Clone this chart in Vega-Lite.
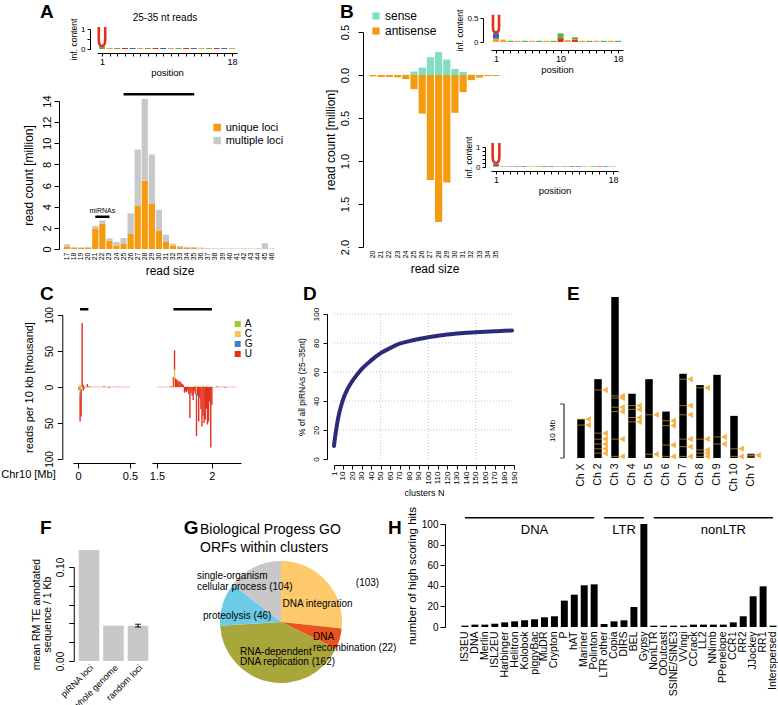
{
"$schema":"https://vega.github.io/schema/vega-lite/v6.json",
"padding":0,
"background":"white",
"data":{"values":[{}]},
"spacing":0,
"bounds":"flush",
"resolve":{"scale":{"color":"independent"}},
"config":{
  "font":"Liberation Sans",
  "view":{"stroke":null},
  "axis":{"domainColor":"black","tickColor":"black","labelColor":"black","titleColor":"black","titleFontWeight":"normal","grid":false,"tickSize":5,"labelFontSize":10,"titleFontSize":11,"labelOverlap":false,"labelFlush":false},
  "legend":{"labelFontSize":11,"symbolType":"square","symbolStrokeWidth":0},
  "title":{"fontWeight":"bold","fontSize":19,"anchor":"start","frame":"group","color":"black"}
},
"datasets":{
  "readsA":[
    {"size":17,"loci":"unique loci","count":0.19},{"size":17,"loci":"multiple loci","count":0.25},
    {"size":18,"loci":"unique loci","count":0.1},{"size":18,"loci":"multiple loci","count":0.08},
    {"size":19,"loci":"unique loci","count":0.1},{"size":19,"loci":"multiple loci","count":0.06},
    {"size":20,"loci":"unique loci","count":0.13},{"size":20,"loci":"multiple loci","count":0.08},
    {"size":21,"loci":"unique loci","count":1.95},{"size":21,"loci":"multiple loci","count":0.22},
    {"size":22,"loci":"unique loci","count":2.39},{"size":22,"loci":"multiple loci","count":0.31},
    {"size":23,"loci":"unique loci","count":0.78},{"size":23,"loci":"multiple loci","count":0.22},
    {"size":24,"loci":"unique loci","count":0.35},{"size":24,"loci":"multiple loci","count":0.31},
    {"size":25,"loci":"unique loci","count":0.47},{"size":25,"loci":"multiple loci","count":0.57},
    {"size":26,"loci":"unique loci","count":1.41},{"size":26,"loci":"multiple loci","count":1.98},
    {"size":27,"loci":"unique loci","count":4.08},{"size":27,"loci":"multiple loci","count":5.32},
    {"size":28,"loci":"unique loci","count":6.47},{"size":28,"loci":"multiple loci","count":7.73},
    {"size":29,"loci":"unique loci","count":4.27},{"size":29,"loci":"multiple loci","count":4.68},
    {"size":30,"loci":"unique loci","count":1.76},{"size":30,"loci":"multiple loci","count":1.94},
    {"size":31,"loci":"unique loci","count":0.66},{"size":31,"loci":"multiple loci","count":0.69},
    {"size":32,"loci":"unique loci","count":0.31},{"size":32,"loci":"multiple loci","count":0.19},
    {"size":33,"loci":"unique loci","count":0.17},{"size":33,"loci":"multiple loci","count":0.11},
    {"size":34,"loci":"unique loci","count":0.1},{"size":34,"loci":"multiple loci","count":0.09},
    {"size":35,"loci":"unique loci","count":0.09},{"size":35,"loci":"multiple loci","count":0.09},
    {"size":36,"loci":"unique loci","count":0.06},{"size":36,"loci":"multiple loci","count":0.07},
    {"size":37,"loci":"unique loci","count":0.04},{"size":37,"loci":"multiple loci","count":0.04},
    {"size":38,"loci":"unique loci","count":0.03},{"size":38,"loci":"multiple loci","count":0.04},
    {"size":39,"loci":"unique loci","count":0.03},{"size":39,"loci":"multiple loci","count":0.03},
    {"size":40,"loci":"unique loci","count":0.03},{"size":40,"loci":"multiple loci","count":0.03},
    {"size":41,"loci":"unique loci","count":0.03},{"size":41,"loci":"multiple loci","count":0.03},
    {"size":42,"loci":"unique loci","count":0.03},{"size":42,"loci":"multiple loci","count":0.03},
    {"size":43,"loci":"unique loci","count":0.03},{"size":43,"loci":"multiple loci","count":0.03},
    {"size":44,"loci":"unique loci","count":0.03},{"size":44,"loci":"multiple loci","count":0.03},
    {"size":45,"loci":"unique loci","count":0.06},{"size":45,"loci":"multiple loci","count":0.48},
    {"size":46,"loci":"unique loci","count":0.02},{"size":46,"loci":"multiple loci","count":0.03}
  ],
  "annotA":[{"from":25,"to":35,"y":14.65,"label":""},{"from":21,"to":23,"y":3.05,"label":"miRNAs","mid":22}],
  "logoA":[
    {"pos":1,"nt":"A","lo":0,"hi":0.13},{"pos":1,"nt":"U","lo":0.15,"hi":1.1},
    {"pos":2,"nt":"G","lo":0,"hi":0.05},{"pos":3,"nt":"A","lo":0,"hi":0.05},{"pos":4,"nt":"U","lo":0,"hi":0.05},
    {"pos":5,"nt":"C","lo":0,"hi":0.05},{"pos":6,"nt":"G","lo":0,"hi":0.05},{"pos":7,"nt":"A","lo":0,"hi":0.05},
    {"pos":8,"nt":"U","lo":0,"hi":0.05},{"pos":9,"nt":"C","lo":0,"hi":0.05},{"pos":10,"nt":"G","lo":0,"hi":0.05},
    {"pos":11,"nt":"A","lo":0,"hi":0.05},{"pos":12,"nt":"U","lo":0,"hi":0.05},{"pos":13,"nt":"C","lo":0,"hi":0.05},
    {"pos":14,"nt":"G","lo":0,"hi":0.05},{"pos":15,"nt":"A","lo":0,"hi":0.05},{"pos":16,"nt":"U","lo":0,"hi":0.05},
    {"pos":17,"nt":"C","lo":0,"hi":0.05},{"pos":18,"nt":"G","lo":0,"hi":0.05}
  ],
  "logoS":[
    {"pos":1,"nt":"G","lo":0,"hi":0.07},{"pos":1,"nt":"C","lo":0.07,"hi":0.18},{"pos":1,"nt":"U","lo":0.19,"hi":0.57},
    {"pos":2,"nt":"G","lo":0,"hi":0.05},{"pos":3,"nt":"A","lo":0,"hi":0.025},{"pos":4,"nt":"G","lo":0,"hi":0.025},
    {"pos":5,"nt":"A","lo":0,"hi":0.025},{"pos":6,"nt":"G","lo":0,"hi":0.025},{"pos":7,"nt":"A","lo":0,"hi":0.025},
    {"pos":8,"nt":"G","lo":0,"hi":0.025},{"pos":9,"nt":"A","lo":0,"hi":0.025},
    {"pos":10,"nt":"U","lo":0,"hi":0.08},{"pos":10,"nt":"A","lo":0.08,"hi":0.18},
    {"pos":11,"nt":"G","lo":0,"hi":0.04},{"pos":12,"nt":"U","lo":0,"hi":0.05},{"pos":12,"nt":"A","lo":0.05,"hi":0.1},
    {"pos":13,"nt":"G","lo":0,"hi":0.025},{"pos":14,"nt":"A","lo":0,"hi":0.025},{"pos":15,"nt":"G","lo":0,"hi":0.025},
    {"pos":16,"nt":"A","lo":0,"hi":0.025},{"pos":17,"nt":"G","lo":0,"hi":0.025},{"pos":18,"nt":"A","lo":0,"hi":0.025}
  ],
  "logoAS":[
    {"pos":1,"nt":"G","lo":0,"hi":0.05},{"pos":1,"nt":"C","lo":0.05,"hi":0.14},{"pos":1,"nt":"U","lo":0.15,"hi":1.2},
    {"pos":2,"nt":"G","lo":0,"hi":0.03},{"pos":3,"nt":"A","lo":0,"hi":0.03},{"pos":4,"nt":"U","lo":0,"hi":0.03},
    {"pos":5,"nt":"C","lo":0,"hi":0.03},{"pos":6,"nt":"G","lo":0,"hi":0.03},{"pos":7,"nt":"A","lo":0,"hi":0.03},
    {"pos":8,"nt":"U","lo":0,"hi":0.03},{"pos":9,"nt":"C","lo":0,"hi":0.03},{"pos":10,"nt":"G","lo":0,"hi":0.03},
    {"pos":11,"nt":"A","lo":0,"hi":0.03},{"pos":12,"nt":"U","lo":0,"hi":0.03},{"pos":13,"nt":"C","lo":0,"hi":0.03},
    {"pos":14,"nt":"G","lo":0,"hi":0.03},{"pos":15,"nt":"A","lo":0,"hi":0.03},{"pos":16,"nt":"U","lo":0,"hi":0.03},
    {"pos":17,"nt":"C","lo":0,"hi":0.03},{"pos":18,"nt":"G","lo":0,"hi":0.03}
  ],
  "readsB":[
    {"size":20,"strand":"sense","count":0},{"size":20,"strand":"antisense","count":-0.016},
    {"size":21,"strand":"sense","count":0},{"size":21,"strand":"antisense","count":-0.023},
    {"size":22,"strand":"sense","count":0},{"size":22,"strand":"antisense","count":-0.023},
    {"size":23,"strand":"sense","count":0},{"size":23,"strand":"antisense","count":-0.027},
    {"size":24,"strand":"sense","count":0.004},{"size":24,"strand":"antisense","count":-0.047},
    {"size":25,"strand":"sense","count":0.04},{"size":25,"strand":"antisense","count":-0.164},
    {"size":26,"strand":"sense","count":0.086},{"size":26,"strand":"antisense","count":-0.45},
    {"size":27,"strand":"sense","count":0.207},{"size":27,"strand":"antisense","count":-1.22},
    {"size":28,"strand":"sense","count":0.266},{"size":28,"strand":"antisense","count":-1.71},
    {"size":29,"strand":"sense","count":0.18},{"size":29,"strand":"antisense","count":-1.25},
    {"size":30,"strand":"sense","count":0.07},{"size":30,"strand":"antisense","count":-0.44},
    {"size":31,"strand":"sense","count":0.035},{"size":31,"strand":"antisense","count":-0.2},
    {"size":32,"strand":"sense","count":0.004},{"size":32,"strand":"antisense","count":-0.06},
    {"size":33,"strand":"sense","count":0},{"size":33,"strand":"antisense","count":-0.03},
    {"size":34,"strand":"sense","count":0},{"size":34,"strand":"antisense","count":-0.012},
    {"size":35,"strand":"sense","count":0},{"size":35,"strand":"antisense","count":-0.012}
  ],
  "chr10":[
    {"mb":0.01,"nt":"U","reads":-4},
    {"mb":0.02,"nt":"A","reads":3},{"mb":0.02,"nt":"C","reads":-8},{"mb":0.02,"nt":"G","reads":-5},{"mb":0.02,"nt":"U","reads":-35},
    {"mb":0.03,"nt":"C","reads":-3},{"mb":0.03,"nt":"U","reads":-38},
    {"mb":0.04,"nt":"A","reads":1},{"mb":0.04,"nt":"U","reads":88},
    {"mb":0.05,"nt":"U","reads":3},{"mb":0.05,"nt":"U","reads":-5},
    {"mb":0.06,"nt":"U","reads":-2},{"mb":0.09,"nt":"U","reads":4},{"mb":0.1,"nt":"U","reads":1},
    {"mb":0.12,"nt":"U","reads":0.5},{"mb":0.25,"nt":"U","reads":1},{"mb":0.3,"nt":"U","reads":-1},{"mb":0.38,"nt":"U","reads":0.5},
    {"mb":1.63,"nt":"U","reads":1},{"mb":1.65,"nt":"U","reads":14},
    {"mb":1.66,"nt":"C","reads":24},{"mb":1.66,"nt":"U","reads":27},
    {"mb":1.67,"nt":"U","reads":12},{"mb":1.68,"nt":"U","reads":10},{"mb":1.69,"nt":"U","reads":9},
    {"mb":1.7,"nt":"U","reads":7},{"mb":1.71,"nt":"U","reads":8},{"mb":1.72,"nt":"U","reads":6},
    {"mb":1.73,"nt":"U","reads":4},{"mb":1.74,"nt":"U","reads":3},
    {"mb":1.75,"nt":"U","reads":-8},{"mb":1.76,"nt":"U","reads":-6},{"mb":1.77,"nt":"U","reads":-7},
    {"mb":1.78,"nt":"U","reads":-4},{"mb":1.79,"nt":"U","reads":-10},{"mb":1.8,"nt":"U","reads":-43},
    {"mb":1.81,"nt":"U","reads":-8},{"mb":1.82,"nt":"U","reads":-12},{"mb":1.83,"nt":"U","reads":-18},
    {"mb":1.84,"nt":"U","reads":-6},{"mb":1.85,"nt":"A","reads":2},{"mb":1.85,"nt":"U","reads":-10},
    {"mb":1.86,"nt":"C","reads":-9},{"mb":1.86,"nt":"G","reads":-7},{"mb":1.86,"nt":"U","reads":-52},
    {"mb":1.87,"nt":"C","reads":2},{"mb":1.87,"nt":"U","reads":-12},{"mb":1.88,"nt":"U","reads":-48},
    {"mb":1.89,"nt":"U","reads":-15},{"mb":1.9,"nt":"U","reads":-31},{"mb":1.91,"nt":"U","reads":-55},
    {"mb":1.92,"nt":"A","reads":2},{"mb":1.92,"nt":"U","reads":-40},{"mb":1.93,"nt":"U","reads":-50},
    {"mb":1.94,"nt":"U","reads":-45},{"mb":1.95,"nt":"C","reads":2},{"mb":1.95,"nt":"U","reads":-30},
    {"mb":1.96,"nt":"U","reads":-52},{"mb":1.97,"nt":"U","reads":-48},{"mb":1.98,"nt":"U","reads":-20},
    {"mb":1.99,"nt":"U","reads":-84},{"mb":2.0,"nt":"U","reads":-25},{"mb":2.05,"nt":"U","reads":1},{"mb":2.12,"nt":"U","reads":-1}
  ],
  "clustersC":[{"start":0.02,"end":0.1},{"start":1.65,"end":2.0}],
  "cum":[
    {"n":1,"pct":9},{"n":2,"pct":14.5},{"n":3,"pct":19},{"n":5,"pct":27},{"n":7,"pct":33},{"n":10,"pct":40},
    {"n":15,"pct":48},{"n":20,"pct":53.5},{"n":25,"pct":58},{"n":30,"pct":62},{"n":40,"pct":68},{"n":50,"pct":73},
    {"n":60,"pct":76.5},{"n":70,"pct":79.5},{"n":80,"pct":81.3},{"n":90,"pct":82.8},{"n":100,"pct":84},
    {"n":110,"pct":85},{"n":120,"pct":85.8},{"n":130,"pct":86.5},{"n":140,"pct":87},{"n":150,"pct":87.4},
    {"n":160,"pct":87.8},{"n":170,"pct":88.1},{"n":180,"pct":88.4},{"n":188,"pct":88.6}
  ],
  "chroms":[
    {"chr":"Ch X","len":7.2},{"chr":"Ch 2","len":14.6},{"chr":"Ch 3","len":29.8},{"chr":"Ch 4","len":11.9},
    {"chr":"Ch 5","len":14.6},{"chr":"Ch 6","len":8.6},{"chr":"Ch 7","len":15.6},{"chr":"Ch 8","len":13.5},
    {"chr":"Ch 9","len":15.4},{"chr":"Ch 10","len":7.8},{"chr":"Ch Y","len":0.8}
  ],
  "clustersE":[
    {"chr":"Ch X","mb":7.2},{"chr":"Ch X","mb":6.1},
    {"chr":"Ch 2","mb":12.6},{"chr":"Ch 2","mb":4.6},{"chr":"Ch 2","mb":3.5},{"chr":"Ch 2","mb":2.6},{"chr":"Ch 2","mb":1.7},{"chr":"Ch 2","mb":0.9},
    {"chr":"Ch 3","mb":11.5},{"chr":"Ch 3","mb":11.1},{"chr":"Ch 3","mb":9.4},{"chr":"Ch 3","mb":8.6},{"chr":"Ch 3","mb":3.5},{"chr":"Ch 3","mb":0.3},
    {"chr":"Ch 4","mb":9.7},{"chr":"Ch 4","mb":9.0},{"chr":"Ch 4","mb":7.5},{"chr":"Ch 4","mb":6.7},
    {"chr":"Ch 5","mb":8.0},{"chr":"Ch 5","mb":0.7},
    {"chr":"Ch 6","mb":6.9},{"chr":"Ch 6","mb":6.0},{"chr":"Ch 6","mb":2.4},{"chr":"Ch 6","mb":0.3},
    {"chr":"Ch 7","mb":14.6},{"chr":"Ch 7","mb":9.7},{"chr":"Ch 7","mb":8.0},{"chr":"Ch 7","mb":3.5},{"chr":"Ch 7","mb":2.1},{"chr":"Ch 7","mb":0.3},
    {"chr":"Ch 8","mb":13.0},{"chr":"Ch 8","mb":3.5},{"chr":"Ch 8","mb":1.5},{"chr":"Ch 8","mb":0.9},{"chr":"Ch 8","mb":0.3},
    {"chr":"Ch 9","mb":3.9},{"chr":"Ch 9","mb":2.6},
    {"chr":"Ch 10","mb":1.7},{"chr":"Ch 10","mb":0.3},
    {"chr":"Ch Y","mb":0.5}
  ],
  "scaleE":[{"chr":"scale","lo":0,"hi":10,"label":"10 Mb"}],
  "teDensity":[{"set":"piRNA loci","value":0.118},{"set":"whole genome","value":0.0376},{"set":"random loci","value":0.0376,"lo":0.0361,"hi":0.0391}],
  "go":[
    {"k":1,"cat":"DNA integration","share":96,"label":"DNA integration","tag":"(103)"},
    {"k":2,"cat":"DNA recombination","share":20,"label":"DNA\nrecombination (22)"},
    {"k":3,"cat":"RNA-dependent DNA replication","share":150.5,"label":"RNA-dependent\nDNA replication (162)"},
    {"k":4,"cat":"proteolysis","share":41.5,"label":"proteolysis (46)"},
    {"k":5,"cat":"single-organism cellular process","share":52,"label":"single-organism\ncellular process (104)"}
  ],
  "hits":[
    {"te":"IS3EU","hits":1.3},{"te":"DNA","hits":2.3},{"te":"Merlin","hits":2.3},{"te":"ISL2EU","hits":3.2},
    {"te":"Harbinger","hits":4.5},{"te":"Helitron","hits":5.5},{"te":"Kolobok","hits":6.5},{"te":"piggyBac","hits":7.5},
    {"te":"MuDR","hits":9.4},{"te":"Crypton","hits":10.4},{"te":"P","hits":25.6},{"te":"hAT","hits":31.4},
    {"te":"Mariner","hits":40.5},{"te":"Polinton","hits":41.4},{"te":"LTR other","hits":2.9},{"te":"Copia","hits":5.5},
    {"te":"DIRS","hits":6.5},{"te":"BEL","hits":19.4},{"te":"Gypsy","hits":100},{"te":"NonLTR","hits":1.3},
    {"te":"OOutcast","hits":1.3},{"te":"SSINE/SINE3","hits":1.3},{"te":"VVingi","hits":1.3},{"te":"CCrack","hits":2.3},
    {"te":"LL2","hits":2.3},{"te":"NNimb","hits":2.3},{"te":"PPenelope","hits":2.3},{"te":"CCR1","hits":4.5},
    {"te":"RR2","hits":10.4},{"te":"JJockey","hits":29.8},{"te":"RR1","hits":39.5},{"te":"Interspersed","hits":1.3}
  ],
  "groupsH":[
    {"group":"DNA","first":"IS3EU","last":"Polinton","mid":"piggyBac"},
    {"group":"LTR","first":"LTR other","last":"Gypsy","mid":"DIRS"},
    {"group":"nonLTR","first":"NonLTR","last":"Interspersed","mid":"PPenelope"}
  ]
},
"vconcat":[
 {"hconcat":[
  {"width":1,"height":1,
   "title":{"text":"25-35 nt reads","fontSize":10,"fontWeight":"normal","align":"center","dx":165,"offset":-22.5},
   "data":{"name":"logoA"},
   "resolve":{"axis":{"x":"independent","y":"independent"}},
   "layer":[
     {"transform":[{"filter":"datum.hi - datum.lo < 0.3"}],
      "mark":{"type":"bar","width":6},
      "encoding":{
        "x":{"field":"pos","type":"quantitative","scale":{"domain":[1,18],"range":[97,237]},"axis":{"values":[1,2,3,4,5,6,7,8,9,10,11,12,13,14,15,16,17,18],"labelExpr":"datum.value == 1 || datum.value == 18 ? datum.label : ''","tickSize":3,"labelFontSize":9,"labelPadding":1,"title":"position","titleFontSize":9.5,"titlePadding":1,"offset":52}},
        "y":{"field":"lo","type":"quantitative","scale":{"domain":[0,1],"range":[49,29]},"axis":{"values":[0,0.5,1],"format":"~g","labelExpr":"datum.value == 0.5 ? '' : datum.label","tickSize":3,"labelFontSize":8,"labelPadding":2,"title":"inf. content","titleFontSize":8.5,"titlePadding":2,"offset":-90}},
        "y2":{"field":"hi"},
        "color":{"field":"nt","type":"nominal","scale":{"domain":["A","C","G","U"],"range":["#5fb33b","#3a62c4","#f3a52b","#e0301e"]},"legend":null}}},
     {"transform":[{"filter":"datum.hi - datum.lo >= 0.3"}],
      "mark":{"type":"point","shape":"M -0.32 0 L -0.32 1.3 C -0.32 2.1 0.32 2.1 0.32 1.3 L 0.32 0","filled":false,"color":"#e0301e","strokeWidth":2.6,"size":400,"opacity":1},
      "encoding":{"x":{"field":"pos","type":"quantitative","scale":{"domain":[1,18],"range":[97,237]},"axis":null},"y":{"field":"hi","type":"quantitative","scale":{"domain":[0,1],"range":[49,29]},"axis":null}}}
   ]},
  {"width":1,"height":1,
   "data":{"name":"logoS"},
   "resolve":{"axis":{"x":"independent","y":"independent"}},
   "layer":[
     {"transform":[{"filter":"datum.hi - datum.lo < 0.3"}],
      "mark":{"type":"bar","width":6},
      "encoding":{
        "x":{"field":"pos","type":"quantitative","scale":{"domain":[1,18],"range":[490,622]},"axis":{"values":[1,2,3,4,5,6,7,8,9,10,11,12,13,14,15,16,17,18],"labelExpr":"datum.value == 1 || datum.value == 10 || datum.value == 18 ? datum.label : ''","tickSize":3,"labelFontSize":9,"labelPadding":1,"title":"position","titleFontSize":9.5,"titlePadding":1,"offset":49}},
        "y":{"field":"lo","type":"quantitative","scale":{"domain":[0,0.5],"range":[42,18]},"axis":{"values":[0,0.5],"format":"~g","tickSize":3,"labelFontSize":8,"labelPadding":2,"title":"inf. content","titleFontSize":8.5,"titlePadding":2,"offset":-482}},
        "y2":{"field":"hi"},
        "color":{"field":"nt","type":"nominal","scale":{"domain":["A","C","G","U"],"range":["#5fb33b","#3a62c4","#f3a52b","#e0301e"]},"legend":null}}},
     {"transform":[{"filter":"datum.hi - datum.lo >= 0.3"}],
      "mark":{"type":"point","shape":"M -0.32 0 L -0.32 1.3 C -0.32 2.1 0.32 2.1 0.32 1.3 L 0.32 0","filled":false,"color":"#e0301e","strokeWidth":2.6,"size":360,"opacity":1},
      "encoding":{"x":{"field":"pos","type":"quantitative","scale":{"domain":[1,18],"range":[490,622]},"axis":null},"y":{"field":"hi","type":"quantitative","scale":{"domain":[0,0.5],"range":[42,18]},"axis":null}}}
   ]},
  {"width":1,"height":1,
   "data":{"name":"logoAS"},
   "resolve":{"axis":{"x":"independent","y":"independent"}},
   "layer":[
     {"transform":[{"filter":"datum.hi - datum.lo < 0.3"}],
      "mark":{"type":"bar","width":6},
      "encoding":{
        "x":{"field":"pos","type":"quantitative","scale":{"domain":[1,18],"range":[489,616]},"axis":{"values":[1,2,3,4,5,6,7,8,9,10,11,12,13,14,15,16,17,18],"labelExpr":"datum.value == 1 || datum.value == 18 ? datum.label : ''","tickSize":3,"labelFontSize":9,"labelPadding":1,"title":"position","titleFontSize":9.5,"titlePadding":1,"offset":170}},
        "y":{"field":"lo","type":"quantitative","scale":{"domain":[0,1],"range":[167,147]},"axis":{"values":[0,0.2,0.4,0.6,0.8,1],"format":"~g","labelExpr":"datum.value == 0 || datum.value == 1 ? datum.label : ''","tickSize":3,"labelFontSize":8,"labelPadding":2,"title":"inf. content","titleFontSize":8.5,"titlePadding":2,"offset":-483}},
        "y2":{"field":"hi"},
        "color":{"field":"nt","type":"nominal","scale":{"domain":["A","C","G","U"],"range":["#5fb33b","#3a62c4","#f3a52b","#e0301e"]},"legend":null}}},
     {"transform":[{"filter":"datum.hi - datum.lo >= 0.3"}],
      "mark":{"type":"point","shape":"M -0.32 0 L -0.32 1.3 C -0.32 2.1 0.32 2.1 0.32 1.3 L 0.32 0","filled":false,"color":"#e0301e","strokeWidth":2.6,"size":440,"opacity":1},
      "encoding":{"x":{"field":"pos","type":"quantitative","scale":{"domain":[1,18],"range":[489,616]},"axis":null},"y":{"field":"hi","type":"quantitative","scale":{"domain":[0,1],"range":[167,147]},"axis":null}}}
   ]},
  {"width":1,"height":1,
   "title":{"text":"A","dx":37,"offset":-21.8},
   "resolve":{"axis":{"x":"independent","y":"independent"}},
   "layer":[
     {"data":{"name":"readsA"},
      "mark":{"type":"bar"},
      "encoding":{
        "x":{"field":"size","type":"ordinal","scale":{"paddingInner":0.12,"paddingOuter":0.06,"range":[60.5,272.5]},"axis":{"title":"read size","labelAngle":-90,"labelFontSize":7,"ticks":false,"domain":false,"labelPadding":3,"titleFontSize":12,"titlePadding":6,"offset":248}},
        "y":{"field":"count","type":"quantitative","scale":{"domain":[0,14],"range":[249,101]},"axis":{"values":[0,2,4,6,8,10,12,14],"labelAngle":-90,"labelFontSize":11,"labelPadding":2,"offset":-56,"title":"read count [million]","titleFontSize":12,"titlePadding":6}},
        "color":{"field":"loci","type":"nominal","scale":{"domain":["unique loci","multiple loci"],"range":["#f59b0f","#c8c8c8"]},"legend":{"title":null,"orient":"none","legendX":208.7,"legendY":122,"symbolSize":56,"labelFontSize":11,"rowPadding":1,"labelOffset":3}},
        "order":{"field":"loci","sort":"descending"}}},
     {"data":{"name":"annotA"},
      "mark":{"type":"rule","strokeWidth":2.5,"color":"black"},
      "encoding":{"x":{"field":"from","type":"ordinal","scale":{"paddingInner":0.12,"paddingOuter":0.06,"range":[60.5,272.5]},"axis":null},"x2":{"field":"to"},"y":{"field":"y","type":"quantitative","scale":{"domain":[0,14],"range":[249,101]},"axis":null}}},
     {"data":{"name":"annotA"},
      "transform":[{"filter":"datum.label != ''"}],
      "mark":{"type":"text","fontSize":7,"dy":-3,"baseline":"bottom"},
      "encoding":{"x":{"field":"mid","type":"ordinal","scale":{"paddingInner":0.12,"paddingOuter":0.06,"range":[60.5,272.5]},"axis":null},"y":{"field":"y","type":"quantitative","scale":{"domain":[0,14],"range":[249,101]},"axis":null},"text":{"field":"label"}}}
   ]},
  {"width":1,"height":1,
   "title":{"text":"B","dx":336,"offset":-21.8},
   "data":{"name":"readsB"},
   "mark":{"type":"bar"},
   "encoding":{
     "x":{"field":"size","type":"ordinal","scale":{"paddingInner":0.12,"paddingOuter":0.06,"range":[365,496]},"axis":{"title":"read size","labelAngle":-90,"labelFontSize":7,"ticks":false,"domain":false,"labelPadding":3,"titleFontSize":12,"titlePadding":6,"offset":246}},
     "y":{"field":"count","type":"quantitative","scale":{"domain":[-2,0.5],"range":[247,32]},"axis":{"values":[-2,-1.5,-1,-0.5,0,0.5],"labelExpr":"format(abs(datum.value),'.1f')","labelAngle":-90,"labelFontSize":11,"labelPadding":8,"offset":-359,"title":"read count [million]","titleFontSize":12,"titlePadding":2}},
     "color":{"field":"strand","type":"nominal","scale":{"domain":["sense","antisense"],"range":["#80dfc1","#f59b0f"]},"legend":{"title":null,"orient":"none","legendX":366,"legendY":10,"symbolSize":52,"labelFontSize":12,"rowPadding":3,"labelOffset":3}}}},
  {"width":1,"height":1,
   "title":{"text":"C","dx":35,"offset":-303.8},
   "resolve":{"axis":{"x":"independent","y":"independent"}},
   "layer":[
     {"mark":{"type":"rule","color":"#f1a79d","strokeWidth":0.8},"encoding":{"x":{"datum":0,"scale":{"domain":[0,0.5],"range":[68,130]},"axis":null},"x2":{"datum":0.5},"y":{"datum":0,"scale":{"domain":[-100,100],"range":[459,315]},"axis":null}}},
     {"data":{"name":"chr10"},"transform":[{"filter":"datum.mb < 1"}],
      "mark":{"type":"bar","width":1.4},
      "encoding":{
        "x":{"field":"mb","type":"quantitative","title":"Chr10 [Mb]","scale":{"domain":[0,0.5],"range":[68,130]},"axis":{"values":[0,0.5],"format":"~g","offset":462,"tickSize":5,"labelFontSize":11,"labelPadding":2,"titleFontSize":11,"titleX":23,"titleY":14,"titleAlign":"center","titleBaseline":"alphabetic"}},
        "y":{"field":"reads","type":"quantitative","title":"reads per 10 kb [thousand]","scale":{"domain":[-100,100],"range":[459,315]},"axis":{"values":[-100,-50,0,50,100],"labelExpr":"format(abs(datum.value),'d')","labelAngle":-90,"labelFontSize":10,"offset":-57.3,"tickSize":5,"labelPadding":3,"titleFontSize":11,"titlePadding":10}},
        "color":{"field":"nt","type":"nominal","scale":{"domain":["A","C","G","U"],"range":["#9acd32","#fbbf5c","#3f7fc3","#e2311e"]},"legend":null},
        "order":{"field":"nt"}}},
     {"data":{"name":"clustersC"},"transform":[{"filter":"datum.start < 1"}],
      "mark":{"type":"rule","strokeWidth":2.5,"color":"black"},
      "encoding":{"x":{"field":"start","type":"quantitative","scale":{"domain":[0,0.5],"range":[68,130]},"axis":null},"x2":{"field":"end"},"y":{"datum":108,"scale":{"domain":[-100,100],"range":[459,315]},"axis":null}}}
   ]},
  {"width":1,"height":1,
   "resolve":{"axis":{"x":"independent","y":"independent"}},
   "layer":[
     {"mark":{"type":"rule","color":"#f1a79d","strokeWidth":0.8},"encoding":{"x":{"datum":1.5,"scale":{"domain":[1.5,2.22],"range":[146,235]},"axis":null},"x2":{"datum":2.22},"y":{"datum":0,"scale":{"domain":[-100,100],"range":[459,315]},"axis":null}}},
     {"data":{"name":"chr10"},"transform":[{"filter":"datum.mb > 1"}],
      "mark":{"type":"bar","width":1.4},
      "encoding":{
        "x":{"field":"mb","type":"quantitative","title":null,"scale":{"domain":[1.5,2.22],"range":[146,235]},"axis":{"values":[1.5,2],"format":"~g","offset":462,"tickSize":5,"labelFontSize":11,"labelPadding":2}},
        "y":{"field":"reads","type":"quantitative","scale":{"domain":[-100,100],"range":[459,315]},"axis":null},
        "color":{"field":"nt","type":"nominal","scale":{"domain":["A","C","G","U"],"range":["#9acd32","#fbbf5c","#3f7fc3","#e2311e"]},"legend":{"title":null,"orient":"none","legendX":226.7,"legendY":319,"symbolSize":36,"labelFontSize":10,"rowPadding":-2,"labelOffset":2}},
        "order":{"field":"nt"}}},
     {"data":{"name":"clustersC"},"transform":[{"filter":"datum.start > 1"}],
      "mark":{"type":"rule","strokeWidth":2.5,"color":"black"},
      "encoding":{"x":{"field":"start","type":"quantitative","scale":{"domain":[1.5,2.22],"range":[146,235]},"axis":null},"x2":{"field":"end"},"y":{"datum":108,"scale":{"domain":[-100,100],"range":[459,315]},"axis":null}}}
   ]},
  {"width":1,"height":1,
   "title":{"text":"D","dx":296,"offset":-303.8},
   "resolve":{"axis":{"x":"independent","y":"independent"}},
   "layer":[
     {"mark":{"type":"rule","color":"#c4c4c4","strokeDash":[1,2]},"encoding":{"x":{"datum":50,"scale":{"domain":[1,190],"range":[327,507]},"axis":null},"y":{"datum":0,"scale":{"domain":[0,100],"range":[459,314]},"axis":null},"y2":{"datum":100}}},
     {"mark":{"type":"rule","color":"#c4c4c4","strokeDash":[1,2]},"encoding":{"x":{"datum":100,"scale":{"domain":[1,190],"range":[327,507]},"axis":null},"y":{"datum":0,"scale":{"domain":[0,100],"range":[459,314]},"axis":null},"y2":{"datum":100}}},
     {"mark":{"type":"rule","color":"#c4c4c4","strokeDash":[1,2]},"encoding":{"x":{"datum":150,"scale":{"domain":[1,190],"range":[327,507]},"axis":null},"y":{"datum":0,"scale":{"domain":[0,100],"range":[459,314]},"axis":null},"y2":{"datum":100}}},
     {"mark":{"type":"rule","color":"#c4c4c4","strokeDash":[1,2]},"encoding":{"y":{"datum":20,"scale":{"domain":[0,100],"range":[459,314]},"axis":null},"x":{"datum":1,"scale":{"domain":[1,190],"range":[327,507]},"axis":null},"x2":{"datum":190}}},
     {"mark":{"type":"rule","color":"#c4c4c4","strokeDash":[1,2]},"encoding":{"y":{"datum":40,"scale":{"domain":[0,100],"range":[459,314]},"axis":null},"x":{"datum":1,"scale":{"domain":[1,190],"range":[327,507]},"axis":null},"x2":{"datum":190}}},
     {"mark":{"type":"rule","color":"#c4c4c4","strokeDash":[1,2]},"encoding":{"y":{"datum":60,"scale":{"domain":[0,100],"range":[459,314]},"axis":null},"x":{"datum":1,"scale":{"domain":[1,190],"range":[327,507]},"axis":null},"x2":{"datum":190}}},
     {"mark":{"type":"rule","color":"#c4c4c4","strokeDash":[1,2]},"encoding":{"y":{"datum":80,"scale":{"domain":[0,100],"range":[459,314]},"axis":null},"x":{"datum":1,"scale":{"domain":[1,190],"range":[327,507]},"axis":null},"x2":{"datum":190}}},
     {"mark":{"type":"rule","color":"#c4c4c4","strokeDash":[1,2]},"encoding":{"y":{"datum":100,"scale":{"domain":[0,100],"range":[459,314]},"axis":null},"x":{"datum":1,"scale":{"domain":[1,190],"range":[327,507]},"axis":null},"x2":{"datum":190}}},
     {"data":{"name":"cum"},"mark":{"type":"line","color":"#2c2a7c","strokeWidth":4,"strokeCap":"round","interpolate":"monotone"},
      "encoding":{
        "x":{"field":"n","type":"quantitative","scale":{"domain":[1,190],"range":[327,507]},"axis":{"values":[1,10,20,30,40,50,60,70,80,90,100,110,120,130,140,150,160,170,180,190],"labelAngle":-90,"labelFontSize":8,"tickSize":4,"offset":464,"title":"clusters N","titleFontSize":9,"labelPadding":2,"titlePadding":4}},
        "y":{"field":"pct","type":"quantitative","scale":{"domain":[0,100],"range":[459,314]},"axis":{"values":[0,20,40,60,80,100],"labelAngle":-90,"labelFontSize":8,"offset":-320,"tickSize":4,"labelPadding":3,"title":"% of all piRNAs (25–35nt)","titleFontSize":8.5,"titlePadding":6}}}}
   ]},
  {"width":1,"height":1,
   "title":{"text":"E","dx":559,"offset":-303.8},
   "resolve":{"axis":{"x":"independent","y":"independent"}},
   "layer":[
     {"data":{"name":"chroms"},"mark":{"type":"bar"},
      "encoding":{
        "x":{"field":"chr","type":"nominal","title":null,"scale":{"domain":["scale","Ch X","Ch 2","Ch 3","Ch 4","Ch 5","Ch 6","Ch 7","Ch 8","Ch 9","Ch 10","Ch Y"],"paddingInner":0.56,"paddingOuter":0.28,"range":[547.5,751.5]},"axis":{"labelExpr":"datum.value == 'scale' ? '' : datum.value","labelAngle":-90,"labelFontSize":10.5,"ticks":false,"domain":false,"labelPadding":5,"offset":457}},
        "y":{"field":"len","type":"quantitative","scale":{"domain":[0,30],"range":[458,296]},"axis":null},
        "color":{"condition":{"test":"datum.chr == 'Ch Y'","value":"#3d2e14"},"value":"black"}}},
     {"data":{"name":"clustersE"},"mark":{"type":"tick","orient":"horizontal","size":7.5,"thickness":1,"color":"#d99a36"},
      "encoding":{"x":{"field":"chr","type":"nominal","scale":{"domain":["scale","Ch X","Ch 2","Ch 3","Ch 4","Ch 5","Ch 6","Ch 7","Ch 8","Ch 9","Ch 10","Ch Y"],"paddingInner":0.56,"paddingOuter":0.28,"range":[547.5,751.5]},"axis":null},"y":{"field":"mb","type":"quantitative","scale":{"domain":[0,30],"range":[458,296]},"axis":null}}},
     {"data":{"name":"clustersE"},"mark":{"type":"point","shape":"triangle-left","filled":true,"size":42,"color":"#f8b145","opacity":1,"xOffset":7},
      "encoding":{"x":{"field":"chr","type":"nominal","scale":{"domain":["scale","Ch X","Ch 2","Ch 3","Ch 4","Ch 5","Ch 6","Ch 7","Ch 8","Ch 9","Ch 10","Ch Y"],"paddingInner":0.56,"paddingOuter":0.28,"range":[547.5,751.5]},"axis":null},"y":{"field":"mb","type":"quantitative","scale":{"domain":[0,30],"range":[458,296]},"axis":null}}},
     {"data":{"name":"scaleE"},"mark":{"type":"rule","color":"black","strokeWidth":1},
      "encoding":{"x":{"field":"chr","type":"nominal","scale":{"domain":["scale","Ch X","Ch 2","Ch 3","Ch 4","Ch 5","Ch 6","Ch 7","Ch 8","Ch 9","Ch 10","Ch Y"],"paddingInner":0.56,"paddingOuter":0.28,"range":[547.5,751.5]},"axis":null},"y":{"field":"lo","type":"quantitative","scale":{"domain":[0,30],"range":[458,296]},"axis":null},"y2":{"field":"hi"}}},
     {"data":{"name":"scaleE"},"mark":{"type":"tick","orient":"horizontal","size":4,"thickness":1,"color":"black","xOffset":-2},
      "encoding":{"x":{"field":"chr","type":"nominal","scale":{"domain":["scale","Ch X","Ch 2","Ch 3","Ch 4","Ch 5","Ch 6","Ch 7","Ch 8","Ch 9","Ch 10","Ch Y"],"paddingInner":0.56,"paddingOuter":0.28,"range":[547.5,751.5]},"axis":null},"y":{"field":"lo","type":"quantitative","scale":{"domain":[0,30],"range":[458,296]},"axis":null}}},
     {"data":{"name":"scaleE"},"mark":{"type":"tick","orient":"horizontal","size":4,"thickness":1,"color":"black","xOffset":-2},
      "encoding":{"x":{"field":"chr","type":"nominal","scale":{"domain":["scale","Ch X","Ch 2","Ch 3","Ch 4","Ch 5","Ch 6","Ch 7","Ch 8","Ch 9","Ch 10","Ch Y"],"paddingInner":0.56,"paddingOuter":0.28,"range":[547.5,751.5]},"axis":null},"y":{"field":"hi","type":"quantitative","scale":{"domain":[0,30],"range":[458,296]},"axis":null}}},
     {"data":{"name":"scaleE"},"mark":{"type":"text","angle":270,"fontSize":8,"xOffset":-11,"align":"center","baseline":"middle"},
      "encoding":{"x":{"field":"chr","type":"nominal","scale":{"domain":["scale","Ch X","Ch 2","Ch 3","Ch 4","Ch 5","Ch 6","Ch 7","Ch 8","Ch 9","Ch 10","Ch Y"],"paddingInner":0.56,"paddingOuter":0.28,"range":[547.5,751.5]},"axis":null},"y":{"datum":5,"scale":{"domain":[0,30],"range":[458,296]},"axis":null},"text":{"field":"label"}}}
   ]},
  {"width":1,"height":1,
   "title":{"text":"F","dx":31,"offset":-537.8},
   "data":{"name":"teDensity"},
   "resolve":{"axis":{"x":"independent","y":"independent"}},
   "layer":[
     {"mark":{"type":"bar","color":"#c8c8c8"},
      "encoding":{
        "x":{"field":"set","type":"nominal","title":null,"scale":{"domain":["piRNA loci","whole genome","random loci"],"paddingInner":0.16,"paddingOuter":0.08,"range":[67.75,141.25]},"axis":{"labelAngle":-45,"ticks":false,"domain":false,"labelFontSize":9,"labelPadding":2,"offset":660}},
        "y":{"field":"value","type":"quantitative","scale":{"domain":[0,0.1],"range":[661,567]},"axis":{"values":[0,0.02,0.04,0.06,0.08,0.1],"labelExpr":"(datum.value < 0.001 || datum.value > 0.099) ? format(datum.value,'.2f') : ''","labelAngle":-90,"labelFontSize":10,"offset":-64.75,"tickSize":5,"labelPadding":3,"title":["mean RM  TE annotated","sequence / 1 Kb"],"titleFontSize":10.5,"titleLineHeight":11,"titlePadding":3}}}},
     {"transform":[{"filter":"isValid(datum.lo)"}],"mark":{"type":"rule","color":"black","strokeWidth":1.2},
      "encoding":{"x":{"field":"set","type":"nominal","scale":{"domain":["piRNA loci","whole genome","random loci"],"paddingInner":0.16,"paddingOuter":0.08,"range":[67.75,141.25]},"axis":null},"y":{"field":"lo","type":"quantitative","scale":{"domain":[0,0.1],"range":[661,567]},"axis":null},"y2":{"field":"hi"}}},
     {"transform":[{"filter":"isValid(datum.lo)"}],"mark":{"type":"tick","orient":"horizontal","size":6,"thickness":1.2,"color":"black"},
      "encoding":{"x":{"field":"set","type":"nominal","scale":{"domain":["piRNA loci","whole genome","random loci"],"paddingInner":0.16,"paddingOuter":0.08,"range":[67.75,141.25]},"axis":null},"y":{"field":"lo","type":"quantitative","scale":{"domain":[0,0.1],"range":[661,567]},"axis":null}}},
     {"transform":[{"filter":"isValid(datum.lo)"}],"mark":{"type":"tick","orient":"horizontal","size":6,"thickness":1.2,"color":"black"},
      "encoding":{"x":{"field":"set","type":"nominal","scale":{"domain":["piRNA loci","whole genome","random loci"],"paddingInner":0.16,"paddingOuter":0.08,"range":[67.75,141.25]},"axis":null},"y":{"field":"hi","type":"quantitative","scale":{"domain":[0,0.1],"range":[661,567]},"axis":null}}}
   ]},
  {"width":1,"height":1,
   "title":{"text":"H","dx":378,"offset":-537.8},
   "resolve":{"axis":{"x":"independent","y":"independent"}},
   "layer":[
     {"data":{"name":"hits"},"mark":{"type":"bar","color":"black"},
      "encoding":{
        "x":{"field":"te","type":"nominal","title":null,"scale":{"domain":["IS3EU","DNA","Merlin","ISL2EU","Harbinger","Helitron","Kolobok","piggyBac","MuDR","Crypton","P","hAT","Mariner","Polinton","LTR other","Copia","DIRS","BEL","Gypsy","NonLTR","OOutcast","SSINE/SINE3","VVingi","CCrack","LL2","NNimb","PPenelope","CCR1","RR2","JJockey","RR1","Interspersed"],"paddingInner":0.3,"paddingOuter":0.15,"range":[450,768]},"axis":{"labelAngle":-90,"ticks":false,"domain":false,"labelPadding":4,"labelFontSize":10.5,"offset":626}},
        "y":{"field":"hits","type":"quantitative","scale":{"domain":[0,100],"range":[627,524]},"axis":{"values":[0,20,40,60,80,100],"labelFontSize":10,"offset":-435,"tickSize":5,"labelPadding":2,"title":"number of high scoring hits","titleFontSize":11.5,"titlePadding":4}}}},
     {"data":{"name":"groupsH"},"mark":{"type":"rule","color":"black","strokeWidth":1.5},
      "encoding":{"x":{"field":"first","type":"nominal","scale":{"domain":["IS3EU","DNA","Merlin","ISL2EU","Harbinger","Helitron","Kolobok","piggyBac","MuDR","Crypton","P","hAT","Mariner","Polinton","LTR other","Copia","DIRS","BEL","Gypsy","NonLTR","OOutcast","SSINE/SINE3","VVingi","CCrack","LL2","NNimb","PPenelope","CCR1","RR2","JJockey","RR1","Interspersed"],"paddingInner":0.3,"paddingOuter":0.15,"range":[450,768]},"axis":null},"x2":{"field":"last"},"y":{"datum":106,"scale":{"domain":[0,100],"range":[627,524]},"axis":null}}},
     {"data":{"name":"groupsH"},"mark":{"type":"text","fontSize":13,"baseline":"middle"},
      "encoding":{"x":{"field":"mid","type":"nominal","scale":{"domain":["IS3EU","DNA","Merlin","ISL2EU","Harbinger","Helitron","Kolobok","piggyBac","MuDR","Crypton","P","hAT","Mariner","Polinton","LTR other","Copia","DIRS","BEL","Gypsy","NonLTR","OOutcast","SSINE/SINE3","VVingi","CCrack","LL2","NNimb","PPenelope","CCR1","RR2","JJockey","RR1","Interspersed"],"paddingInner":0.3,"paddingOuter":0.15,"range":[450,768]},"axis":null},"y":{"datum":94,"scale":{"domain":[0,100],"range":[627,524]},"axis":null},"text":{"field":"group"}}}
   ]}
 ],"spacing":0,"bounds":"flush","resolve":{"scale":{"color":"independent"}}},
 {"width":1,"height":561,"mark":{"type":"text","text":""}},
 {"hconcat":[
  {"width":220,"height":1,"mark":{"type":"text","text":""}},
  {"width":122,"height":122,
   "title":{"text":["Biological Progess GO","ORFs within clusters"],"fontSize":14,"fontWeight":"normal","lineHeight":18,"dx":-20,"offset":-36},
   "data":{"name":"go"},
   "layer":[
     {"mark":{"type":"arc","outerRadius":61},
      "encoding":{
        "theta":{"field":"share","type":"quantitative","stack":true},
        "color":{"field":"cat","type":"nominal","scale":{"domain":["DNA integration","DNA recombination","RNA-dependent DNA replication","proteolysis","single-organism cellular process"],"range":["#fdc96b","#e8541c","#a9a63c","#6ccbe6","#c8c8c8"]},"legend":null},
        "order":{"field":"k","type":"quantitative"}}},
     {"transform":[{"filter":"datum.k == 1"}],"mark":{"type":"text","text":"G","theta":5.52,"radius":130,"align":"center","baseline":"middle","fontSize":19,"fontWeight":"bold"}},
     {"transform":[{"filter":"datum.k == 1"}],"mark":{"type":"text","theta":1.147,"radius":94.9,"align":"center","baseline":"middle","fontSize":10},"encoding":{"text":{"field":"tag"}}},
     {"transform":[{"filter":"datum.k == 1"}],"mark":{"type":"text","theta":1.112,"radius":40.7,"align":"center","baseline":"middle","fontSize":10},"encoding":{"text":{"field":"label"}}},
     {"transform":[{"filter":"datum.k == 2"}],"mark":{"type":"text","theta":1.997,"radius":35.1,"align":"left","baseline":"middle","fontSize":10,"lineBreak":"\n","lineHeight":11},"encoding":{"text":{"field":"label"}}},
     {"transform":[{"filter":"datum.k == 3"}],"mark":{"type":"text","theta":4.073,"radius":51.1,"align":"left","baseline":"middle","fontSize":10,"lineBreak":"\n","lineHeight":10},"encoding":{"text":{"field":"label"}}},
     {"transform":[{"filter":"datum.k == 4"}],"mark":{"type":"text","theta":4.789,"radius":78.2,"align":"left","baseline":"middle","fontSize":10},"encoding":{"text":{"field":"label"}}},
     {"transform":[{"filter":"datum.k == 5"}],"mark":{"type":"text","theta":5.213,"radius":95.8,"align":"left","baseline":"middle","fontSize":10,"lineBreak":"\n","lineHeight":11},"encoding":{"text":{"field":"label"}}}
   ]}
 ],"spacing":0,"bounds":"flush","resolve":{"scale":{"color":"independent"}}}
]
}
